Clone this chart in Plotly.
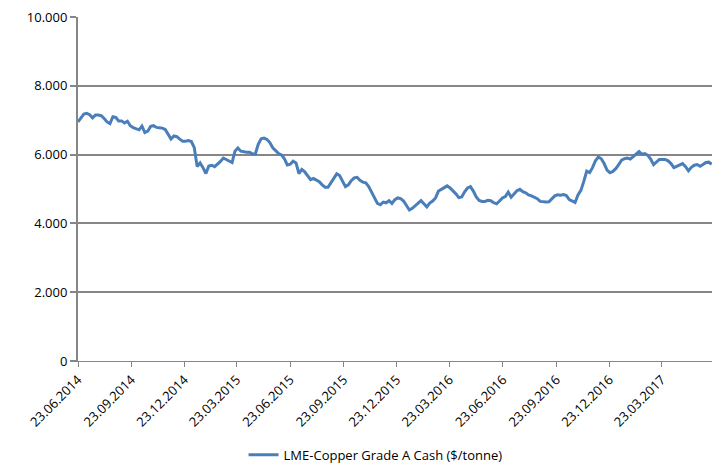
import pandas as pd
import plotly.graph_objects as go

start_date = "2014-06-23"
sample_step = "5D"
series_name = "LME-Copper Grade A Cash ($/tonne)"
prices = [
    6950, 7060, 7180, 7200, 7160, 7070, 7150, 7150, 7130, 7050,
    6950, 6900, 7100, 7080, 6980, 6980, 6920, 6970, 6840, 6780,
    6740, 6720, 6830, 6640, 6680, 6820, 6840, 6790, 6780, 6770,
    6730, 6580, 6450, 6540, 6520, 6450, 6390, 6390, 6410, 6380,
    6200, 5650, 5760, 5620, 5450, 5670, 5690, 5650, 5720, 5800,
    5900, 5850, 5810, 5770, 6100, 6190, 6100, 6080, 6070, 6070,
    6020, 6020, 6300, 6460, 6480, 6440, 6350, 6200, 6100, 6030,
    5990, 5880, 5700, 5720, 5810, 5760, 5450, 5570, 5500, 5400,
    5270, 5310, 5260, 5210, 5120, 5050, 5050, 5190, 5310, 5440,
    5390, 5240, 5070, 5120, 5240, 5320, 5340, 5250, 5200, 5180,
    5070, 4910, 4720, 4580, 4540, 4620, 4600, 4660, 4580, 4690,
    4740, 4720, 4650, 4500, 4390, 4440, 4510, 4600, 4660, 4570,
    4480, 4590, 4650, 4740, 4940, 4990, 5030, 5090, 5030, 4950,
    4860, 4750, 4770, 4920, 5030, 5070, 4940, 4770, 4670, 4640,
    4640, 4670, 4660, 4600, 4570, 4650, 4740, 4780, 4910, 4760,
    4850, 4950, 4990, 4920, 4890, 4830, 4800, 4770, 4720, 4640,
    4620, 4620, 4630, 4720, 4800, 4830, 4820, 4840, 4810, 4690,
    4650, 4610, 4830, 4960, 5220, 5520, 5480, 5620, 5820, 5930,
    5880, 5740, 5550, 5470, 5510, 5590, 5710, 5840, 5880, 5900,
    5870, 5940, 6020, 6090, 6010, 6030, 5980, 5870, 5710, 5780,
    5860, 5860, 5860, 5820, 5740, 5620, 5660, 5680, 5740, 5650,
    5530, 5630, 5690, 5710, 5660, 5710, 5770, 5780, 5720,
]
dates = pd.date_range(start_date, periods=len(prices), freq=sample_step)

y_ticks = [0, 2000, 4000, 6000, 8000, 10000]
x_range = ["2014-06-23", "2017-06-17 12:00"]
x_tick_start = "2014-06-23"
x_tick_step = "M3"

line_color = "#4A7EBB"
grid_color = "#868686"

fig = go.Figure()
fig.add_trace(go.Scatter(
    x=dates, y=prices, mode="lines", name=series_name,
    line=dict(color=line_color, width=3),
))

fig.update_layout(
    width=714, height=464,
    margin=dict(l=78, r=2, t=17, b=103),
    paper_bgcolor="white", plot_bgcolor="white",
    separators=",.",
    font=dict(family="Open Sans", size=13, color="#000000"),
    showlegend=True,
    legend=dict(
        orientation="h", xref="container", yref="container",
        x=0.526, xanchor="center", y=0.02, yanchor="middle",
        itemwidth=30, font=dict(size=13),
    ),
)
fig.update_xaxes(
    type="date", range=x_range,
    tick0=x_tick_start, dtick=x_tick_step, tickformat="%d.%m.%Y",
    tickangle=-45, showgrid=False,
    showline=True, linecolor=grid_color, linewidth=1,
    ticks="outside", ticklen=5, tickcolor=grid_color, tickwidth=1,
)
fig.update_yaxes(
    range=[0, 10000], tickvals=y_ticks, tickformat=",",
    showgrid=True, gridcolor=grid_color, gridwidth=2,
    showline=True, linecolor=grid_color, linewidth=2,
    ticks="outside", ticklen=6, tickcolor=grid_color, tickwidth=2,
    zeroline=False,
)

fig.write_html("out.html")
